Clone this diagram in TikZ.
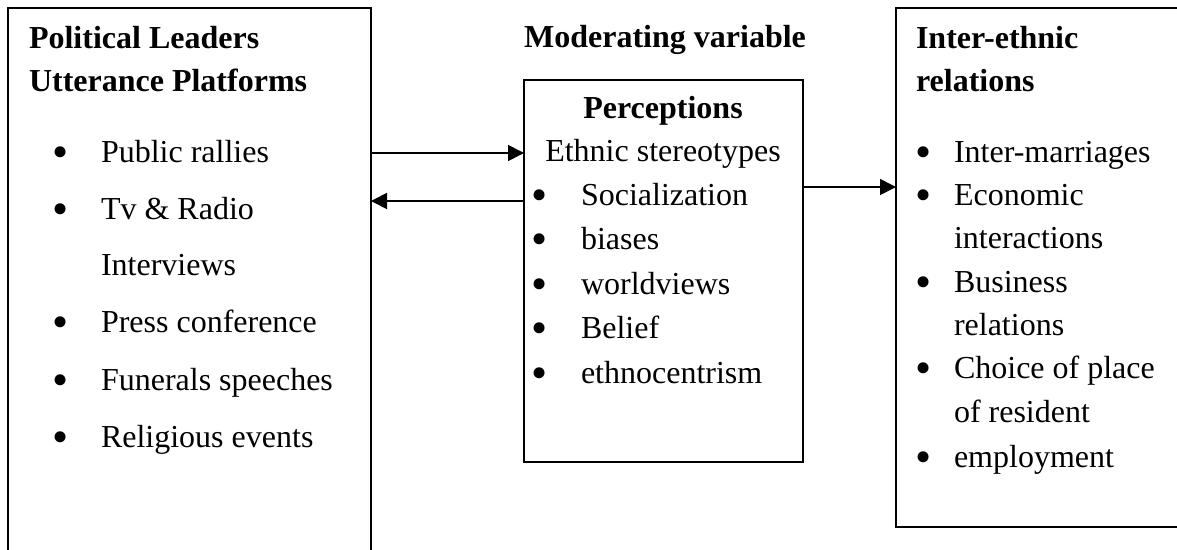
\documentclass[tikz,border=0pt]{standalone}
\usepackage{fontspec}
\setmainfont{Liberation Serif}
\usetikzlibrary{arrows.meta}
\newcommand\bul[1]{\llap{\raisebox{-5.5pt}{\fontsize{46}{46}\selectfont •}\hspace{#1}}}
\begin{document}
\begin{tikzpicture}[x=1pt,y=-1pt,
  txt/.style={inner sep=0pt, outer sep=0pt, anchor=base west, font=\fontsize{32}{38}\selectfont},
  ctxt/.style={txt, anchor=base},
  hd/.style={txt, font=\fontsize{32}{38}\selectfont\bfseries},
  chd/.style={hd, anchor=base},
  boxnode/.style={draw, line width=1.7pt, inner sep=0pt, outer sep=0pt, anchor=north west},
  arr/.style={line width=1.7pt, -{Triangle[length=16pt,width=16pt]}}]
\useasboundingbox (0,0) rectangle (1177,549);
% boxes
\node[boxnode, minimum width=363pt, minimum height=560pt] (L) at (8,8) {};
\node[boxnode, minimum width=279pt, minimum height=382pt] (M) at (524,80) {};
\node[boxnode, minimum width=300pt, minimum height=519pt] (R) at (896,8) {};
% left box text
\node[hd] (l1) at (29,48) {Political Leaders};
\node[hd] (l2) at (29,91) {Utterance Platforms};
\node[txt] (la) at (101,162) {\bul{32pt}Public rallies};
\node[txt] (lb) at (101,219) {\bul{32pt}Tv \& Radio};
\node[txt] (lc) at (101,275) {Interviews};
\node[txt] (ld) at (101,332) {\bul{32pt}Press conference};
\node[txt] (le) at (101,390) {\bul{32pt}Funerals speeches};
\node[txt] (lf) at (101,447) {\bul{32pt}Religious events};
% middle
\node[chd] (mv) at (665,47) {Moderating variable};
\node[chd] (m1) at (663,118) {Perceptions};
\node[ctxt] (m2) at (663,161) {Ethnic stereotypes};
\node[txt] (ma) at (581,205) {\bul{33pt}Socialization};
\node[txt] (mb) at (581,249) {\bul{33pt}biases};
\node[txt] (mc) at (581,294) {\bul{33pt}worldviews};
\node[txt] (md) at (581,338) {\bul{33pt}Belief};
\node[txt] (me) at (581,383) {\bul{33pt}ethnocentrism};
% right
\node[hd] (r1) at (916,48) {Inter-ethnic};
\node[hd] (r2) at (916,91) {relations};
\node[txt] (ra) at (954,162) {\bul{22pt}Inter-marriages};
\node[txt] (rb) at (954,205) {\bul{22pt}Economic};
\node[txt] (rc) at (954,248) {interactions};
\node[txt] (rd) at (954,292) {\bul{22pt}Business};
\node[txt] (re) at (954,335) {relations};
\node[txt] (rf) at (954,378) {\bul{22pt}Choice of place};
\node[txt] (rg) at (954,422) {of resident};
\node[txt] (rh) at (954,467) {\bul{22pt}employment};
% connectors
\coordinate (ya) at (0,153);
\coordinate (yb) at (0,201);
\coordinate (yc) at (0,187);
\draw[arr] (L.east |- ya) -- (M.west |- ya);
\draw[arr] (M.west |- yb) -- (L.east |- yb);
\draw[arr] (M.east |- yc) -- (R.west |- yc);
\end{tikzpicture}
\end{document}
